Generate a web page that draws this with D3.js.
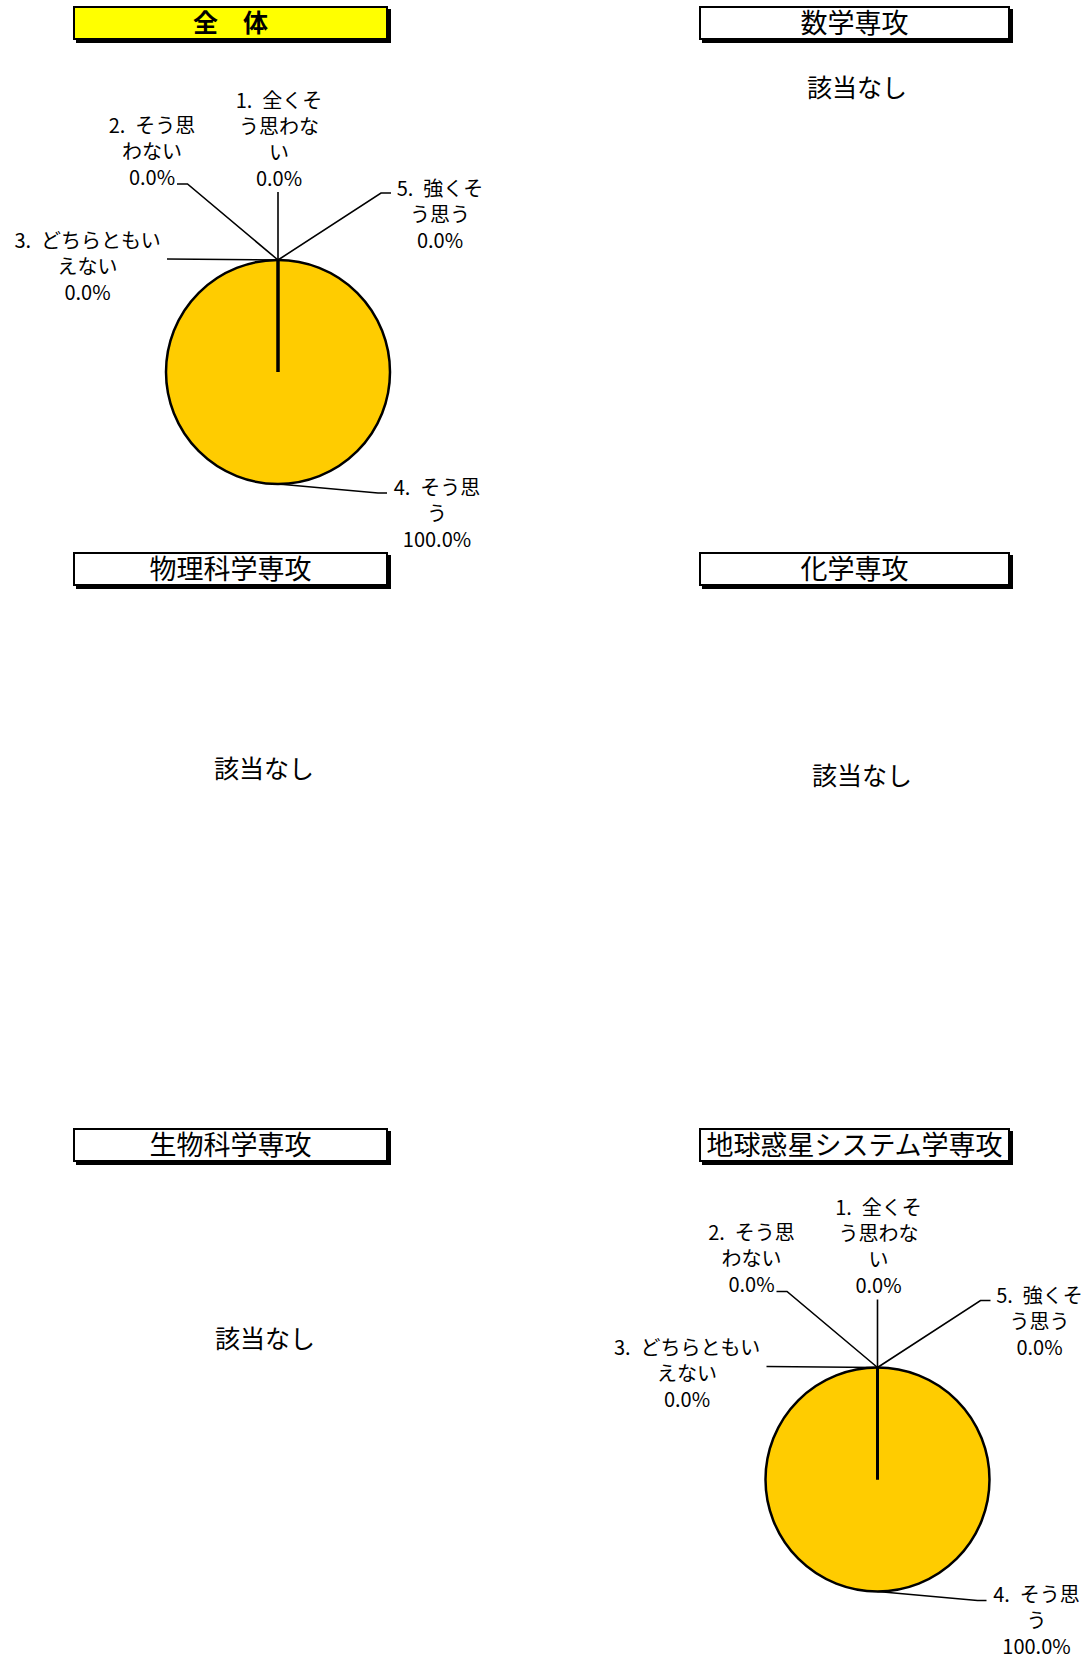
<!DOCTYPE html>
<html><head><meta charset="utf-8">
<script src="https://cdn.jsdelivr.net/npm/d3@7"></script>
<style>
body{margin:0;background:#fff}
svg{display:block}
text{font-family:"Noto Sans CJK JP","Noto Sans",sans-serif;fill:#000}
</style>
</head><body>
<svg id="c" width="1090" height="1661"></svg>
<script>
// ---- data ----
const categories = ["1. 全くそう思わない", "2. そう思わない", "3. どちらともいえない", "4. そう思う", "5. 強くそう思う"];
const panelTitles = ["全　体", "数学専攻", "物理科学専攻", "化学専攻", "生物科学専攻", "地球惑星システム学専攻"];
const valuesTotal = [0, 0, 0, 100, 0];
const valuesEarth = [0, 0, 0, 100, 0];
const panelValues = [valuesTotal, null, null, null, null, valuesEarth];
const noDataText = "該当なし";

// ---- layout ----
const panels = [
  {box:[73, 6, 315], pie:[278, 372], highlight:true},
  {box:[699, 6, 311], nodata:[857, 86]},
  {box:[73, 552, 315], nodata:[264, 767]},
  {box:[699, 552, 311], nodata:[862, 774]},
  {box:[73, 1128, 315], nodata:[265, 1337]},
  {box:[699, 1128, 311], pie:[877.5, 1479.5]}
];
const boxH = 34, shadow = 3;
const R = 112;
// label layout relative to pie centre: first-line centre, wrap width (em), leader elbow, leader end x
const labelLayout = [
  {pos:[1, -273], wrap:4.5, elbow:[0, -180], endX:0},
  {pos:[-126, -248], wrap:4.5, elbow:[-90.5, -188], endX:-101},
  {pos:[-190.5, -133], wrap:7.5, elbow:[-111, -113], endX:-111},
  {pos:[159, 114], wrap:4.5, elbow:[100, 121], endX:109},
  {pos:[162, -185], wrap:4.5, elbow:[103, -179], endX:113}
];
const labelFont = 20, lineH = 26;

const svg = d3.select("#c");
const fmt = d3.format(".1%");

function wrapText(s, maxEm){
  const lines = []; let cur = "", w = 0;
  for (const ch of s){
    const cw = ch.charCodeAt(0) < 0x2000 ? 0.5 : 1;
    if (w + cw > maxEm + 1e-6 && cur.length){ lines.push(cur); cur = ""; w = 0; }
    cur += ch; w += cw;
  }
  if (cur.length) lines.push(cur);
  return lines.map(l => l.replace(/ /g, "\u2002"));
}

panels.forEach((p, i) => {
  const g = svg.append("g");
  const [bx, by, bw] = p.box;
  g.append("rect").attr("x", bx + shadow).attr("y", by + shadow).attr("width", bw).attr("height", boxH).attr("fill", "#000");
  g.append("rect").attr("x", bx + 1).attr("y", by + 1).attr("width", bw - 2).attr("height", boxH - 2)
    .attr("fill", p.highlight ? "#FFFF00" : "#fff").attr("stroke", "#000").attr("stroke-width", 2);
  g.append("text").attr("x", bx + bw / 2).attr("y", by + boxH / 2 - 2)
    .attr("text-anchor", "middle").attr("dominant-baseline", "central")
    .attr("font-size", p.highlight ? 25 : 27).attr("font-weight", p.highlight ? "bold" : "normal")
    .text(panelTitles[i]);

  const vals = panelValues[i];
  if (!vals){
    g.append("text").attr("x", p.nodata[0]).attr("y", p.nodata[1])
      .attr("text-anchor", "middle").attr("dominant-baseline", "central")
      .attr("font-size", 25).text(noDataText);
    return;
  }
  const [cx, cy] = p.pie;
  const pg = g.append("g").attr("transform", `translate(${cx},${cy})`);
  const arcs = d3.pie().sort(null).value(d => d)(vals);
  const total = d3.sum(vals);
  const arc = d3.arc().innerRadius(0).outerRadius(R);
  const pt = a => [R * Math.sin(a), -R * Math.cos(a)];

  // leaders
  arcs.forEach((a, k) => {
    const L = labelLayout[k];
    const start = pt((a.startAngle + a.endAngle) / 2);
    pg.append("polyline")
      .attr("points", [start, L.elbow, [L.endX, L.elbow[1]]].map(q => q.join(",")).join(" "))
      .attr("fill", "none").attr("stroke", "#000").attr("stroke-width", 1.6);
  });

  // slices
  pg.selectAll("path.slice").data(arcs.filter(a => a.value > 0)).join("path")
    .attr("class", "slice").attr("d", arc)
    .attr("fill", "#FFCC00").attr("stroke", "#000").attr("stroke-width", 2.5);
  arcs.filter(a => a.value > 0).forEach(a => {
    [a.startAngle, a.endAngle].forEach(ang => {
      const q = pt(ang);
      pg.append("line").attr("x1", 0).attr("y1", 0).attr("x2", q[0]).attr("y2", q[1])
        .attr("stroke", "#000").attr("stroke-width", 3);
    });
  });

  // labels
  arcs.forEach((a, k) => {
    const L = labelLayout[k];
    const lines = wrapText(categories[k], L.wrap).concat([fmt(total ? a.value / total : 0)]);
    const t = pg.append("text").attr("text-anchor", "middle").attr("font-size", labelFont);
    lines.forEach((ln, j) => {
      t.append("tspan").attr("x", L.pos[0]).attr("y", L.pos[1] + j * lineH)
        .attr("dominant-baseline", "central").text(ln);
    });
  });
});
</script>
</body></html>
